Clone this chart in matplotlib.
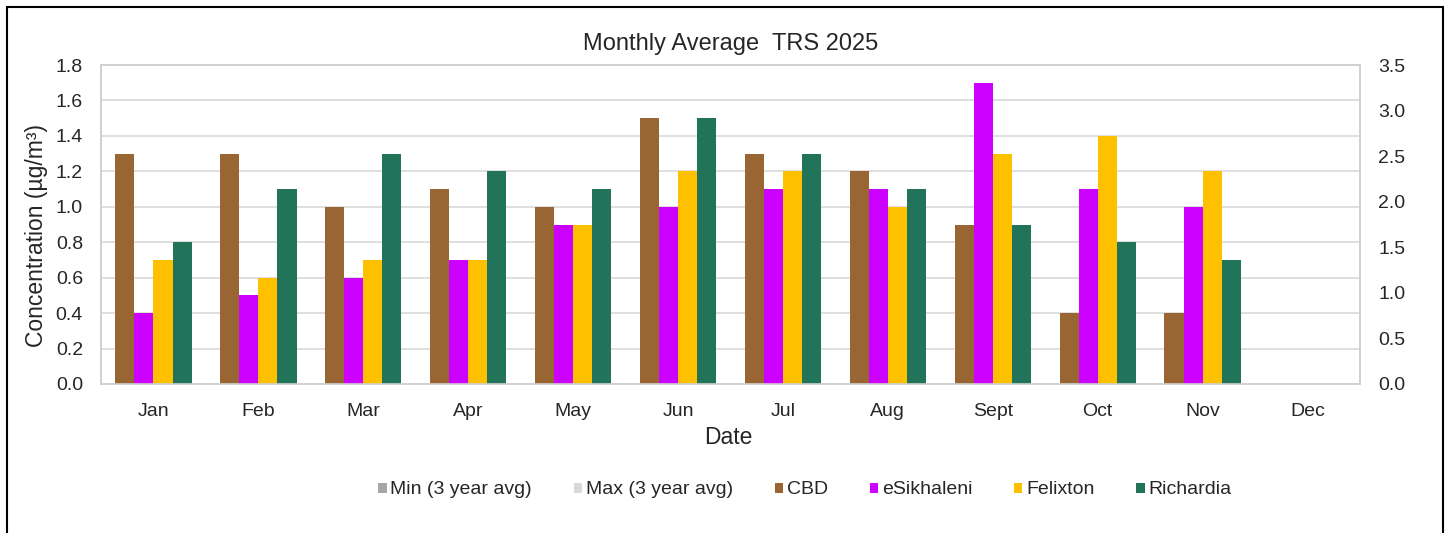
import matplotlib.pyplot as plt
import matplotlib
import numpy as np
from matplotlib.patches import Rectangle

matplotlib.rcParams['font.family'] = ['Liberation Sans', 'DejaVu Sans']
matplotlib.rcParams['axes.unicode_minus'] = False

months = ['Jan', 'Feb', 'Mar', 'Apr', 'May', 'Jun', 'Jul', 'Aug', 'Sept', 'Oct', 'Nov', 'Dec']
nan = np.nan

# secondary axis series (no values shown in the chart)
min_3yr = [nan] * 12
max_3yr = [nan] * 12

cbd = [1.3, 1.3, 1.0, 1.1, 1.0, 1.5, 1.3, 1.2, 0.9, 0.4, 0.4, nan]
esikhaleni = [0.4, 0.5, 0.6, 0.7, 0.9, 1.0, 1.1, 1.1, 1.7, 1.1, 1.0, nan]
felixton = [0.7, 0.6, 0.7, 0.7, 0.9, 1.2, 1.2, 1.0, 1.3, 1.4, 1.2, nan]
richardia = [0.8, 1.1, 1.3, 1.2, 1.1, 1.5, 1.3, 1.1, 0.9, 0.8, 0.7, nan]

fig = plt.figure(figsize=(14.5, 5.33), dpi=100)
ax = fig.add_axes([101 / 1450, 1 - 384 / 533, (1360 - 101) / 1450, (384 - 65) / 533])
ax2 = ax.twinx()

x = np.arange(len(months))
w = 0.182

ax2.bar(x, min_3yr, w, color='#a6a6a6', label='Min (3 year avg)')
ax2.bar(x, max_3yr, w, color='#d9d9d9', label='Max (3 year avg)')

series = [(cbd, '#996633', 'CBD'),
          (esikhaleni, '#cc00ff', 'eSikhaleni'),
          (felixton, '#ffc000', 'Felixton'),
          (richardia, '#217459', 'Richardia')]
for i, (vals, col, name) in enumerate(series):
    ax.bar(x + (i - 1.5) * w, vals, w, color=col, label=name, zorder=3)

ax.set_xlim(-0.5, 11.5)
ax.set_ylim(0, 1.8)
ax.set_yticks(np.arange(0, 1.81, 0.2))
ax.set_yticklabels(['%.1f' % v for v in np.arange(0, 1.81, 0.2)])
ax2.set_ylim(0, 3.5)
ax2.set_yticks(np.arange(0, 3.51, 0.5))
ax2.set_yticklabels(['%.1f' % v for v in np.arange(0, 3.51, 0.5)])

ax.set_xticks(x)
ax.set_xticklabels(months)
ax.grid(axis='y', color='#d9d9d9', linewidth=1.2, zorder=0)
ax.set_axisbelow(True)

for a in (ax, ax2):
    for s in a.spines.values():
        s.set_color('#d0d0d0')
        s.set_linewidth(1.2)
    a.tick_params(length=0, labelsize=14, colors='#262626')
ax.tick_params(axis='x', pad=13.5)
ax.tick_params(axis='y', pad=13)
ax2.tick_params(axis='y', pad=13)

ax.set_title('Monthly Average  TRS 2025', fontsize=17, color='#262626', pad=11)
ax.set_xlabel('Date', fontsize=16.5, color='#262626')
ax.xaxis.set_label_coords(0.4985, -0.169)
ax.set_ylabel('Concentration (µg/m³)', fontsize=16.5, color='#262626')
ax.yaxis.set_label_coords(-0.0516, 0.464)
ax.xaxis.label.set_va('center')
ax.yaxis.label.set_va('center')

h1, l1 = ax2.get_legend_handles_labels()
h2, l2 = ax.get_legend_handles_labels()
fig.legend(h1 + h2, l1 + l2, loc='center', bbox_to_anchor=(805 / 1450, 1 - 490 / 533),
           ncol=6, frameon=False, fontsize=14, handlelength=0.42, handleheight=0.42,
           handletextpad=0.2, columnspacing=2.15, labelcolor='#262626',
           borderpad=0, borderaxespad=0)

# outer chart border
fig.patches.append(Rectangle((7 / 1450, -0.05), (1443 - 7) / 1450, 1.05 - 7 / 533,
                             transform=fig.transFigure, fill=False,
                             edgecolor='black', linewidth=1.5))

fig.savefig('out.png', dpi=100)
